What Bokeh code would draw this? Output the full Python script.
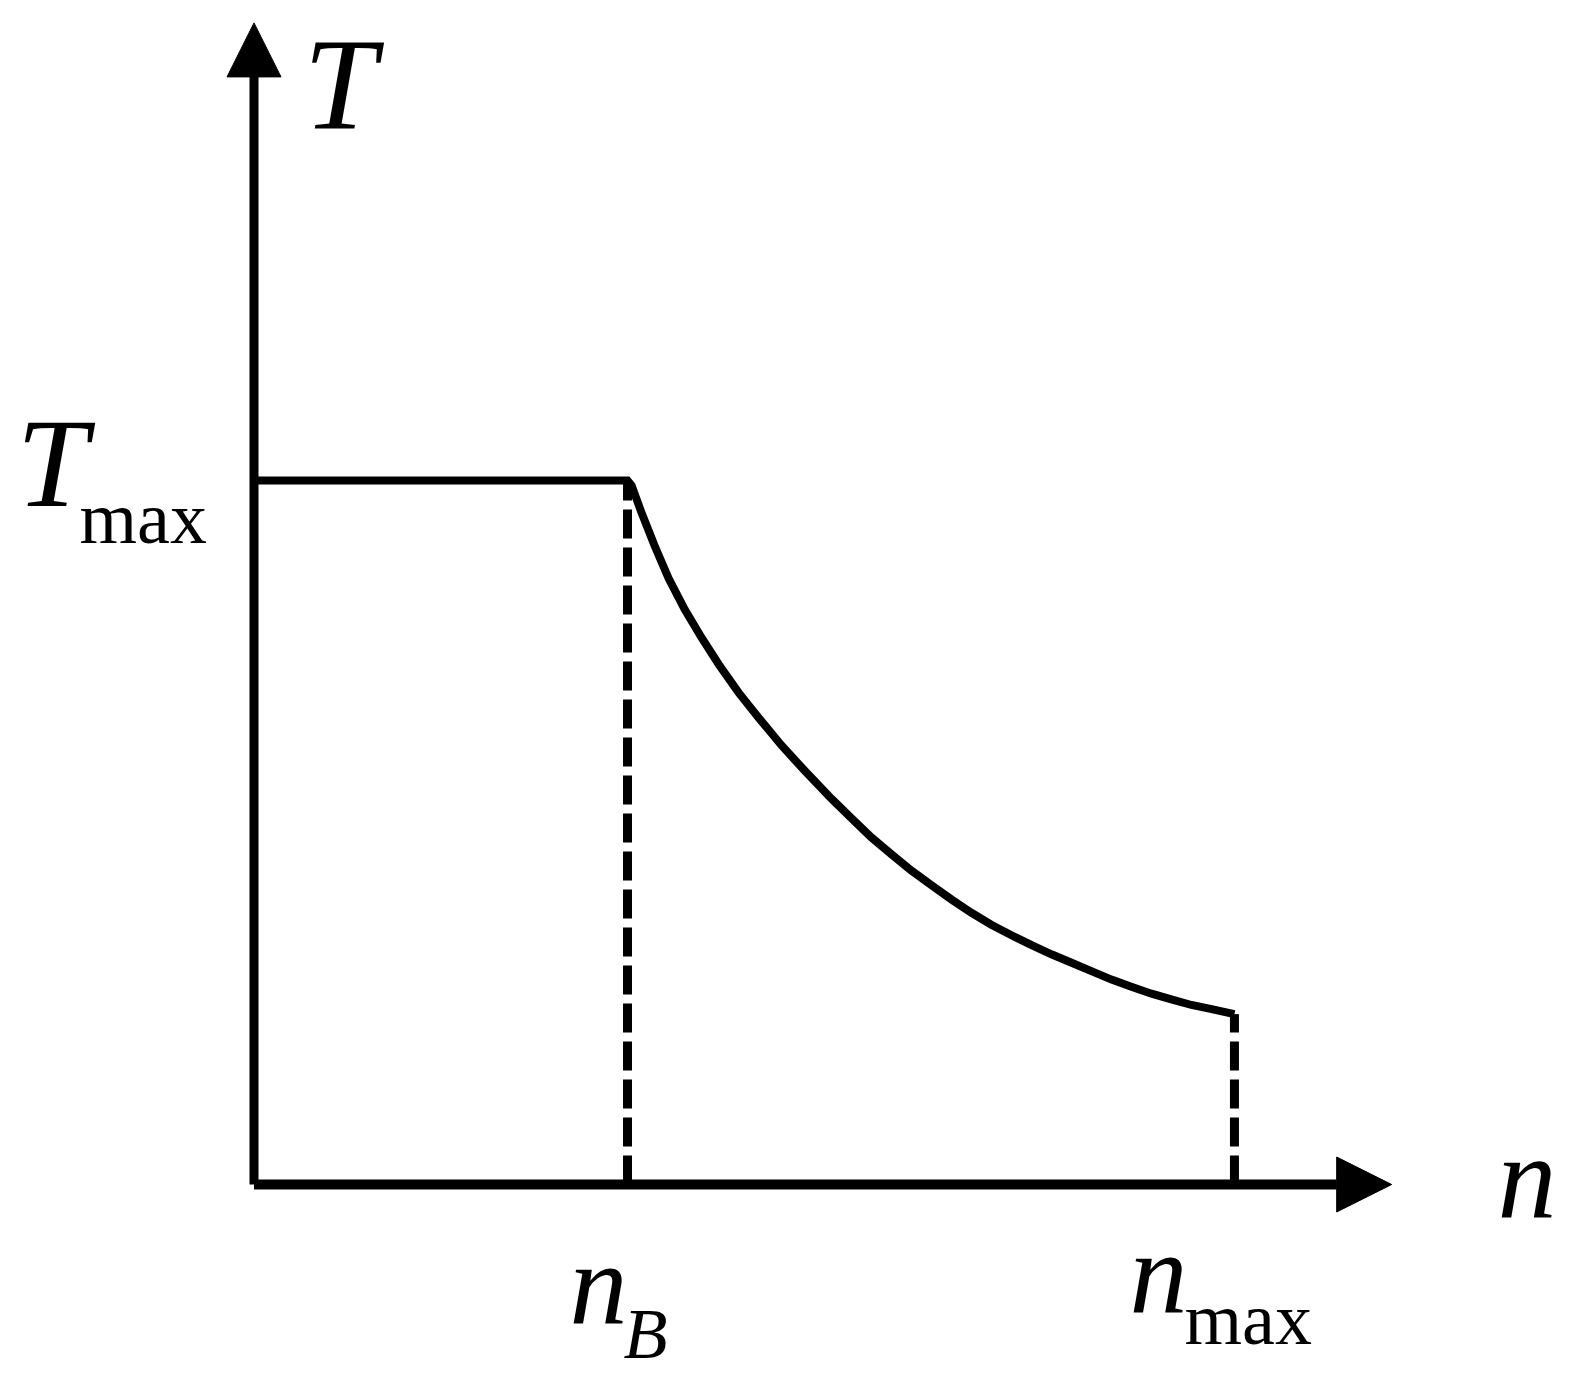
from bokeh.plotting import figure
from bokeh.models import Arrow, NormalHead, Label, Range1d
from bokeh.embed import file_html
from bokeh.resources import INLINE

# ---- data (relative units: n_B = 1, T_max = 1) ----
n_B = 1.0
n_max = 2.625
T_max = 1.0
# torque-speed characteristic: constant torque up to n_B, then falling to n_max
char_n = [0.0, 1.000, 1.011, 1.037, 1.072, 1.110, 1.153, 1.198, 1.244, 1.297,
          1.351, 1.412, 1.474, 1.546, 1.600, 1.653, 1.707, 1.760, 1.814,
          1.867, 1.921, 1.974, 2.028, 2.082, 2.135, 2.189, 2.242, 2.296,
          2.349, 2.403, 2.456, 2.510, 2.564, 2.625]
char_T = [1.0, 1.000, 0.993, 0.955, 0.908, 0.861, 0.817, 0.777, 0.739, 0.699,
          0.663, 0.624, 0.588, 0.548, 0.520, 0.493, 0.469, 0.446, 0.425,
          0.405, 0.386, 0.369, 0.354, 0.340, 0.327, 0.315, 0.303, 0.291,
          0.281, 0.271, 0.263, 0.255, 0.249, 0.242]
T_at_nmax = char_T[-1]
n_axis_end = 3.046
T_axis_end = 1.650

# ---- layout helpers (page pixels -> data units) ----
W, H = 1562, 1375
ORIGIN = -1          # where the canvas lands on the photographed page
X0_PX, PX_PER_N = 252.5, 373.5
Y0_PX, PX_PER_T = 1183.0, 704.0


def to_n(px):
    return (px - X0_PX) / PX_PER_N


def to_T(py):
    return (Y0_PX - py) / PX_PER_T


p = figure(width=W, height=H,
           x_range=Range1d(to_n(ORIGIN), to_n(ORIGIN + W)),
           y_range=Range1d(to_T(ORIGIN + H), to_T(ORIGIN)),
           output_backend="svg", toolbar_location=None, min_border=0,
           x_axis_location=None, y_axis_location=None)
p.grid.visible = False
p.outline_line_color = None
p.background_fill_color = "white"
p.border_fill_color = "white"

# dashed guides
p.segment(x0=[n_B, n_max], y0=[0, 0], x1=[n_B, n_max], y1=[T_max, T_at_nmax],
          line_color="black", line_width=9, line_dash="29 9")

# characteristic
p.line(char_n, char_T, line_color="black", line_width=8, line_join="miter")

# axes with arrows
p.add_layout(Arrow(end=NormalHead(size=54, fill_color="black", line_color="black", line_width=1),
                   x_start=0, y_start=0, x_end=0, y_end=T_axis_end,
                   line_color="black", line_width=9))
p.add_layout(Arrow(end=NormalHead(size=55, fill_color="black", line_color="black", line_width=1),
                   x_start=0, y_start=0, x_end=n_axis_end, y_end=0,
                   line_color="black", line_width=10))

FONT = "Liberation Serif"


def lab(text, px, py, size, style="italic"):
    # px: intended glyph origin, py: intended baseline (page pixels)
    p.add_layout(Label(x=to_n(px - 4), y=to_T(py - 0.36 * size), text=text,
                       text_font=FONT, text_font_size=f"{size}px",
                       text_font_style=style, text_color="black",
                       text_align="left", text_baseline="alphabetic"))


lab("T", 306, 130, 131)
lab("T", 19, 508, 128)
lab("max", 82, 543, 74, "normal")
lab("n", 1500, 1218, 118)
lab("n", 572, 1324, 116)
lab("B", 626, 1358, 72)
lab("n", 1132, 1313, 116)
lab("max", 1187, 1344, 74, "normal")

open("out.html", "w").write(file_html(p, INLINE))
